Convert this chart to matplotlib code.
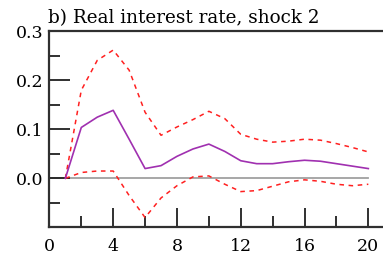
import numpy as np
import matplotlib
matplotlib.use('Agg')
import matplotlib.pyplot as plt
from matplotlib.ticker import MultipleLocator

# impulse response, shock 2 (horizon 1..20)
horizon = list(range(1, 21))
response = [0.0, 0.104, 0.125, 0.139, 0.08, 0.02, 0.026, 0.045, 0.06, 0.07,
            0.055, 0.036, 0.03, 0.03, 0.034, 0.037, 0.035, 0.03, 0.025, 0.02]
upper = [0.0, 0.18, 0.241, 0.262, 0.221, 0.135, 0.088, 0.105, 0.12, 0.137,
         0.122, 0.09, 0.08, 0.074, 0.076, 0.08, 0.078, 0.071, 0.063, 0.054]
lower = [0.0, 0.012, 0.015, 0.015, -0.035, -0.08, -0.04, -0.015, 0.003, 0.005,
         -0.012, -0.027, -0.025, -0.016, -0.007, -0.003, -0.006, -0.012, -0.015, -0.012]
title = 'b) Real interest rate, shock 2'

plt.rcParams['font.family'] = 'DejaVu Serif'
fig = plt.figure(figsize=(3.83, 2.56), dpi=100)
ax = fig.add_axes([0.129, 0.112, 0.871, 0.765])

ax.plot([0, 20], [0, 0], color='#a0a0a0', lw=1.3, zorder=1)
ax.plot(horizon, upper, color='#ff2020', lw=1.1, dashes=(3, 3), zorder=2)
ax.plot(horizon, lower, color='#ff2020', lw=1.1, dashes=(3, 3), zorder=2)
ax.plot(horizon, response, color='#a030b0', lw=1.2, zorder=3)

ax.set_xlim(0, 20.92)
ax.set_ylim(-0.1, 0.3)
ax.xaxis.set_major_locator(MultipleLocator(4))
ax.xaxis.set_minor_locator(MultipleLocator(2))
ax.yaxis.set_major_locator(MultipleLocator(0.1))
ax.yaxis.set_minor_locator(MultipleLocator(0.05))
ax.set_yticks([0.0, 0.1, 0.2, 0.3])
ax.set_yticklabels(['0.0', '0.1', '0.2', '0.3'])
ax.tick_params(which='major', direction='in', length=15, width=1.3, color='#202020',
               labelsize=12.5, pad=4)
ax.tick_params(which='minor', direction='in', length=8, width=1.3, color='#202020')
ax.tick_params(axis='x', which='major', length=14, pad=8)
ax.spines['right'].set_visible(False)
for s in ['left', 'bottom', 'top']:
    ax.spines[s].set_linewidth(1.6)
    ax.spines[s].set_color('#303030')

fig.text(0.125, 0.965, title, fontsize=13.2, va='top', ha='left')

plt.savefig('out.png', dpi=100)
